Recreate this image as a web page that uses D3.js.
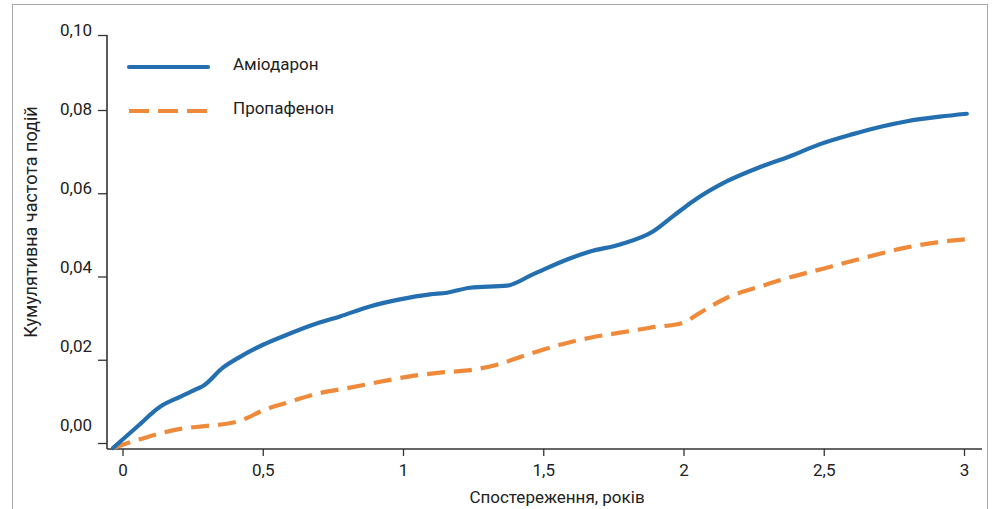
<!DOCTYPE html>
<html>
<head>
<meta charset="utf-8">
<script src="https://cdn.jsdelivr.net/npm/d3@7"></script>
<style>
  html, body { margin: 0; padding: 0; background: #fff; }
  svg { display: block; font-family: Roboto, "Noto Sans", sans-serif; }
</style>
</head>
<body>
<div id="chart"></div>
<script>
// ---- Data ----
const seriesNames = ["Аміодарон", "Пропафенон"];
const amioX = [-0.034, 0.052, 0.134, 0.205, 0.269, 0.287, 0.358, 0.419, 0.501, 0.586, 0.679, 0.775, 0.882, 0.989, 1.096, 1.157, 1.239, 1.371, 1.463, 1.585, 1.667, 1.774, 1.891, 1.963, 2.034, 2.155, 2.273, 2.380, 2.487, 2.604, 2.711, 2.797, 2.914, 3.010];
const amioY = [-0.0012, 0.0039, 0.0087, 0.0111, 0.0131, 0.0137, 0.0181, 0.0207, 0.0236, 0.0260, 0.0284, 0.0304, 0.0328, 0.0345, 0.0357, 0.0361, 0.0373, 0.0378, 0.0405, 0.0441, 0.0460, 0.0477, 0.0508, 0.0545, 0.0581, 0.0629, 0.0663, 0.0689, 0.0718, 0.0742, 0.0761, 0.0773, 0.0784, 0.0791];
const propX = [-0.034, 0.087, 0.205, 0.301, 0.408, 0.444, 0.490, 0.597, 0.704, 0.811, 0.918, 1.014, 1.132, 1.250, 1.335, 1.442, 1.560, 1.667, 1.774, 1.881, 1.998, 2.059, 2.155, 2.273, 2.380, 2.487, 2.594, 2.690, 2.797, 2.904, 3.003];
const propY = [-0.0012, 0.0014, 0.0034, 0.0041, 0.0051, 0.0060, 0.0075, 0.0099, 0.0120, 0.0133, 0.0147, 0.0159, 0.0169, 0.0176, 0.0188, 0.0212, 0.0236, 0.0253, 0.0265, 0.0277, 0.0289, 0.0313, 0.0349, 0.0376, 0.0398, 0.0417, 0.0436, 0.0453, 0.0470, 0.0482, 0.0489];
const xTicks = [0, 0.5, 1, 1.5, 2, 2.5, 3];
const xTickLabels = ["0", "0,5", "1", "1,5", "2", "2,5", "3"];
const yTicks = [0, 0.02, 0.04, 0.06, 0.08, 0.10];
const yTickLabels = ["0,00", "0,02", "0,04", "0,06", "0,08", "0,10"];
const xTitle = "Спостереження, років";
const yTitle = "Кумулятивна частота подій";

// ---- Layout ----
const W = 999, H = 509;
const blue = "#236fb0", orange = "#ef8a3a", axisCol = "#333", textCol = "#222";
const fs = 17;

const svg = d3.select("#chart").append("svg").attr("width", W).attr("height", H);

// frame
svg.append("rect").attr("x", 12.5).attr("y", 4.5).attr("width", 975).attr("height", 540)
  .attr("fill", "none").attr("stroke", "#aaa").attr("stroke-width", 1);

const x = d3.scaleLinear().domain([0, 3]).range([122.5, 964]);
const y = d3.scaleLinear().domain([0, 0.08, 0.10]).range([443, 110, 35]);
const yLab = d3.scaleLinear().domain([0, 0.10]).range([425, 30]);

const axisLeftX = 107, axisBottomY = 449;

// y axis
const gy = svg.append("g").attr("transform", `translate(${axisLeftX},0)`)
  .call(d3.axisLeft(y).tickValues(yTicks).tickFormat("").tickSize(9).tickSizeOuter(0));
gy.select(".domain").remove();
gy.selectAll(".tick line").attr("stroke", axisCol).attr("stroke-width", 1.3);
svg.append("line").attr("x1", axisLeftX).attr("x2", axisLeftX).attr("y1", y(0.10)).attr("y2", axisBottomY)
  .attr("stroke", axisCol).attr("stroke-width", 1.6);
svg.append("g").selectAll("text").data(yTicks).join("text")
  .attr("x", 92).attr("y", d => yLab(d)).attr("dy", "0.35em")
  .attr("text-anchor", "end").attr("font-size", fs).attr("fill", textCol)
  .text((d, i) => yTickLabels[i]);

// x axis
const gx = svg.append("g").attr("transform", `translate(0,${axisBottomY})`)
  .call(d3.axisBottom(x).tickValues(xTicks).tickFormat((d, i) => xTickLabels[i]).tickSize(7).tickPadding(8).tickSizeOuter(0));
gx.select(".domain").remove();
gx.selectAll(".tick line").attr("stroke", axisCol).attr("stroke-width", 1.3);
gx.selectAll(".tick text").attr("font-size", fs).attr("fill", textCol).attr("font-family", "Roboto, sans-serif");
svg.append("line").attr("x1", axisLeftX).attr("x2", 982).attr("y1", axisBottomY).attr("y2", axisBottomY)
  .attr("stroke", axisCol).attr("stroke-width", 1.6);

// titles
svg.append("text").attr("x", 557).attr("y", 497).attr("dy", "0.35em").attr("text-anchor", "middle")
  .attr("font-size", fs).attr("fill", textCol).text(xTitle);
svg.append("text").attr("transform", "translate(31,222) rotate(-90)").attr("dy", "0.35em")
  .attr("text-anchor", "middle").attr("font-size", 18).attr("fill", textCol).text(yTitle);

// lines
const line = d3.line().x(d => x(d[0])).y(d => y(d[1])).curve(d3.curveMonotoneX);
const amio = amioX.map((v, i) => [v, amioY[i]]);
const prop = propX.map((v, i) => [v, propY[i]]);

svg.append("path").datum(prop).attr("d", line).attr("fill", "none")
  .attr("stroke", orange).attr("stroke-width", 4.2).attr("stroke-dasharray", "18,9");
svg.append("path").datum(amio).attr("d", line).attr("fill", "none")
  .attr("stroke", blue).attr("stroke-width", 4.2).attr("stroke-linecap", "round").attr("stroke-linejoin", "round");

// legend
const legend = svg.append("g");
const legItems = [
  { name: seriesNames[0], color: blue, dash: null, y: 67 },
  { name: seriesNames[1], color: orange, dash: "20,9", y: 111 }
];
legItems.forEach(it => {
  legend.append("line").attr("x1", 129).attr("x2", 208).attr("y1", it.y).attr("y2", it.y)
    .attr("stroke", it.color).attr("stroke-width", 4.2)
    .attr("stroke-dasharray", it.dash).attr("stroke-linecap", it.dash ? "butt" : "round");
  legend.append("text").attr("x", 233).attr("y", it.y - 3).attr("dy", "0.35em")
    .attr("font-size", fs).attr("fill", textCol).text(it.name);
});
</script>
</body>
</html>
